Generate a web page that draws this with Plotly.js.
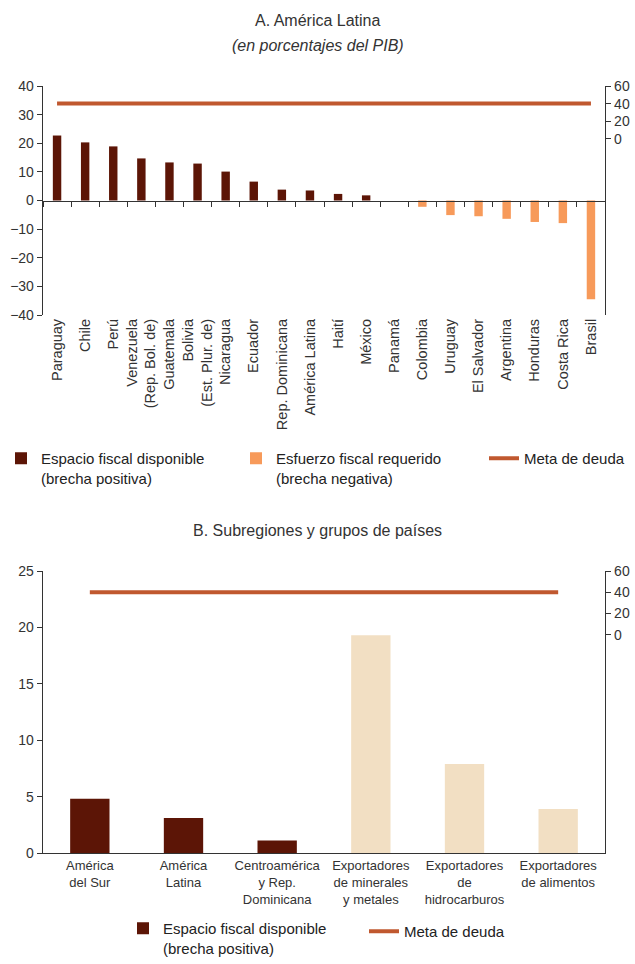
<!DOCTYPE html>
<html><head><meta charset="utf-8">
<script src="https://cdn.plot.ly/plotly-3.0.1.min.js"></script>
<style>html,body{margin:0;padding:0;background:#fff}#chart{width:635px;height:964px}</style>
</head><body><div id="chart"></div>
<script>
// ---- Panel A data ----
const paisesA = ["Paraguay","Chile","Perú","Venezuela<br>(Rep. Bol. de)","Guatemala","Bolivia<br>(Est. Plur. de)","Nicaragua","Ecuador","Rep. Dominicana","América Latina","Haití","México","Panamá","Colombia","Uruguay","El Salvador","Argentina","Honduras","Costa Rica","Brasil"];
const brechaA = [22.7,20.3,18.9,14.7,13.3,12.9,10.1,6.6,3.8,3.5,2.3,1.8,0,-2.2,-5.1,-5.5,-6.4,-7.5,-7.9,-34.5];
const metaA = [40,40,40,40,40,40,40,40,40,40,40,40,40,40,40,40,40,40,40,40];
// ---- Panel B data ----
const gruposB = ["América<br>del Sur","América<br>Latina","Centroamérica<br>y Rep.<br>Dominicana","Exportadores<br>de minerales<br>y metales","Exportadores<br>de<br>hidrocarburos","Exportadores<br>de alimentos"];
const subregionB = [4.8,3.1,1.1,null,null,null];
const gruposValB = [null,null,null,19.3,7.9,3.9];
const metaB = [40,40,40,40,40,40];
const rightTicks = [0,20,40,60];

const C_DARK = "#5C1506", C_ORANGE = "#F79A5A", C_LINE = "#C0582F", C_BEIGE = "#F2DFC3";
const TXT = "#333333";
const FAM = "Liberation Sans, Arial, sans-serif";
const W = 635, H = 964;
const px = v => v / W, py = v => 1 - v / H;
const xDom = [px(43), px(605)];
const yDomA = [py(315), py(86)];
const yDomB = [py(853), py(571)];

const espacioA = brechaA.map(v => v > 0 ? v : null);
const esfuerzoA = brechaA.map(v => v < 0 ? v : null);

const traces = [
  {type:"bar", x:paisesA, y:espacioA, xaxis:"x", yaxis:"y", marker:{color:C_DARK}, width:0.3,
   name:"Espacio fiscal disponible<br>(brecha positiva)", legend:"legend"},
  {type:"bar", x:paisesA, y:esfuerzoA, xaxis:"x", yaxis:"y", marker:{color:C_ORANGE}, width:0.3,
   name:"Esfuerzo fiscal requerido<br>(brecha negativa)", legend:"legend3"},
  {type:"scatter", mode:"lines", x:paisesA, y:metaA, xaxis:"x", yaxis:"y2", line:{color:C_LINE, width:4},
   name:"Meta de deuda", legend:"legend4"},
  {type:"bar", x:gruposB, y:subregionB, xaxis:"x4", yaxis:"y4", marker:{color:C_DARK}, width:0.42,
   name:"Espacio fiscal disponible<br>(brecha positiva)", legend:"legend2"},
  {type:"bar", x:gruposB, y:gruposValB, xaxis:"x4", yaxis:"y4", marker:{color:C_BEIGE}, width:0.42,
   showlegend:false, legend:"legend2"},
  {type:"scatter", mode:"lines", x:gruposB, y:metaB, xaxis:"x4", yaxis:"y5", line:{color:C_LINE, width:4},
   name:"Meta de deuda", legend:"legend5"}
];

const axFont = {family:FAM, size:14, color:TXT};
const yBase = {showgrid:false, zeroline:false, showline:true, linecolor:TXT, linewidth:1.3,
  ticks:"outside", ticklen:5, tickcolor:TXT, tickfont:axFont};
const zeroPos = yDomA[0] + (yDomA[1]-yDomA[0]) * (0 - (-40)) / 80;

const legFont = {family:FAM, size:15, color:"#222"};
const mkLeg = (x, yPix, anchor) => ({orientation:"v", x:px(x), xanchor:"left",
  y:py(yPix), yanchor:anchor, valign:"top", font:legFont, bgcolor:"rgba(0,0,0,0)"});

const layout = {
  width:W, height:H, margin:{l:0,r:0,t:0,b:0, autoexpand:false}, paper_bgcolor:"#fff", plot_bgcolor:"rgba(0,0,0,0)",
  barmode:"overlay", font:{family:FAM, color:TXT},
  xaxis:{domain:xDom, anchor:"y", type:"category", tickangle:-90, showline:false, ticks:"",
    showgrid:false, zeroline:false, tickfont:{family:FAM, size:14.5, color:TXT},
    range:[-0.5, paisesA.length-0.5]},
  xaxis3:{domain:xDom, overlaying:"x", anchor:"free", position:zeroPos, type:"linear",
    range:[-0.5, paisesA.length-0.5], tickvals:paisesA.map((_,i)=>i-0.5), showticklabels:false,
    showline:true, linecolor:TXT, linewidth:1.3, ticks:"outside", ticklen:5, tickcolor:TXT, showgrid:false, zeroline:false},
  yaxis:Object.assign({}, yBase, {domain:yDomA, anchor:"x", range:[-40,40], dtick:10}),
  yaxis2:Object.assign({}, yBase, {domain:yDomA, anchor:"x", overlaying:"y", side:"right", range:[-200,60], tickvals:rightTicks}),
  xaxis4:{domain:xDom, anchor:"y4", type:"category", tickangle:0, showline:true, linecolor:TXT, linewidth:1.3, ticks:"",
    showgrid:false, zeroline:false, tickfont:{family:FAM, size:13, color:TXT},
    range:[-0.5, gruposB.length-0.5]},
  yaxis4:Object.assign({}, yBase, {domain:yDomB, anchor:"x4", range:[0,25], dtick:5}),
  yaxis5:Object.assign({}, yBase, {domain:yDomB, anchor:"x4", overlaying:"y4", side:"right", range:[-205,60], tickvals:rightTicks}),
  legend: mkLeg(1, 442, "top"),
  legend3: mkLeg(236, 442, "top"),
  legend4: mkLeg(484, 442, "top"),
  legend2: mkLeg(123, 964, "bottom"),
  legend5: mkLeg(364, 915, "top"),
  annotations:[
    {text:"A. América Latina", x:0.5, y:py(20), xref:"paper", yref:"paper", yanchor:"middle", showarrow:false,
     font:{family:FAM, size:16, color:TXT}},
    {text:"<i>(en porcentajes del PIB)</i>", x:0.5, y:py(45), xref:"paper", yref:"paper", yanchor:"middle", showarrow:false,
     font:{family:FAM, size:16, color:TXT}},
    {text:"B. Subregiones y grupos de países", x:0.5, y:py(530), xref:"paper", yref:"paper", yanchor:"middle", showarrow:false,
     font:{family:FAM, size:16, color:TXT}}
  ],
  showlegend:true
};

// invisible helper trace so xaxis3 (zero line with boundary ticks) renders
traces.push({type:"scatter", x:[0], y:[0], xaxis:"x3", yaxis:"y", mode:"markers", marker:{opacity:0}, showlegend:false, hoverinfo:"skip"});

Plotly.newPlot("chart", traces, layout, {staticPlot:true});
</script></body></html>
